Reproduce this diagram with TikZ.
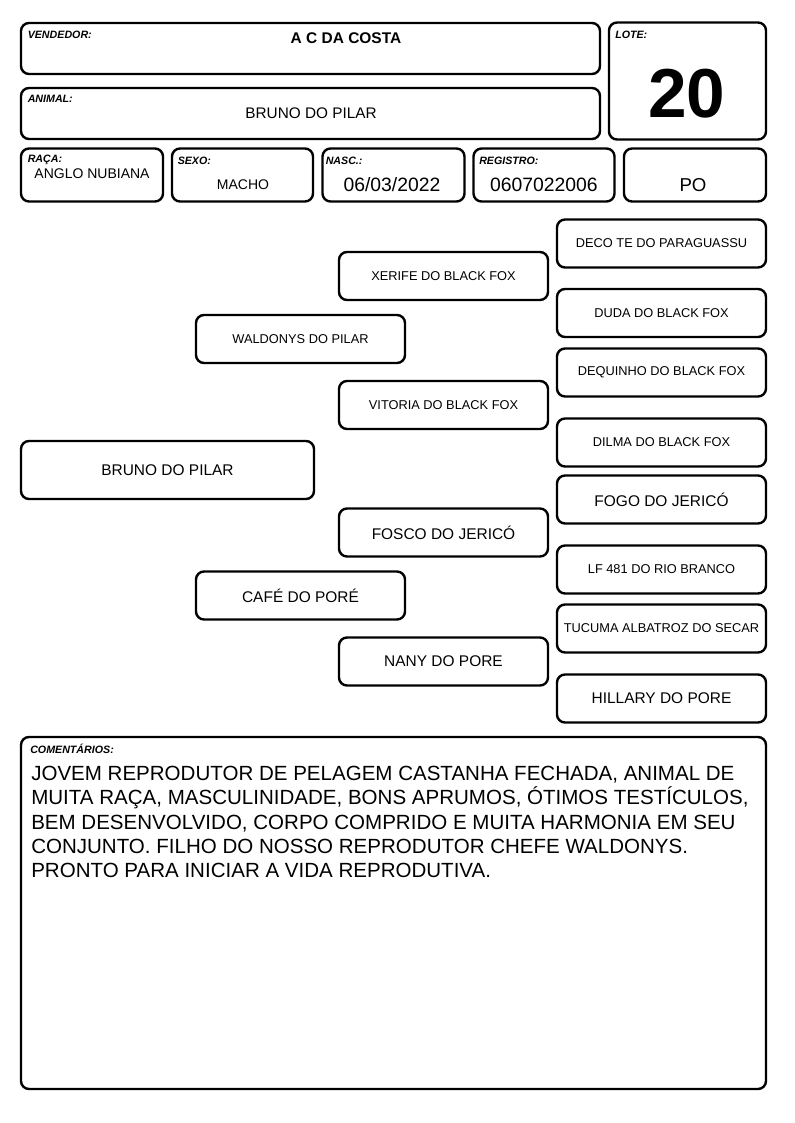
\documentclass[tikz,border=0pt]{standalone}
\usepackage{fontspec}
\setmainfont{Liberation Sans}

\begin{document}
\begin{tikzpicture}[x=0.75pt,y=-0.75pt,
	box/.style={draw, line width=1.8pt, rounded corners=6pt, inner sep=0pt},
	tag/.style={anchor=base west, inner sep=0pt, font=\fontsize{8}{8}\selectfont\bfseries\itshape},
	val/.style={anchor=base, inner sep=0pt},
	horse/.style={box, minimum width=156.75pt, minimum height=36pt, font=\fontsize{9.6}{10}\selectfont},
	bighorse/.style={horse, font=\fontsize{11.6}{12}\selectfont}]
	\useasboundingbox (0,0) rectangle (794,1123);
	
	% cabecalho
	\node[box, minimum width=434.25pt, minimum height=38.25pt] (vendedor) at (310.5,48.5) {};
	\node[tag] (vendedortag) at (27.5,39) {VENDEDOR:};
	\node[val, font=\fontsize{11.6}{12}\selectfont\bfseries] (vendedorval) at (346,43.3) {A C DA COSTA};
	
	\node[box, minimum width=434.25pt, minimum height=38.25pt] (animal) at (310.5,113.5) {};
	\node[tag] (animaltag) at (27.5,102.3) {ANIMAL:};
	\node[val, font=\fontsize{11.5}{12}\selectfont] (animalval) at (311,119) {BRUNO DO PILAR};
	
	\node[box, minimum width=117.75pt, minimum height=87.75pt] (lote) at (687.5,81) {};
	\node[tag] (lotetag) at (615,39) {LOTE:};
	\node[val, font=\fontsize{52}{52}\selectfont\bfseries] (loteval) at (687,117.7) {20};
	
	\node[box, minimum width=106.5pt, minimum height=39.75pt] (raca) at (92,175) {};
	\node[tag] (racatag) at (27.5,162.3) {RAÇA:};
	\node[val, font=\fontsize{10.5}{11}\selectfont] (racaval) at (92,178.3) {ANGLO NUBIANA};
	
	\node[box, minimum width=105.75pt, minimum height=39.75pt] (sexo) at (242.5,175) {};
	\node[tag] (sexotag) at (177.5,165) {SEXO:};
	\node[val, font=\fontsize{10.5}{11}\selectfont] (sexoval) at (243,189.3) {MACHO};
	
	\node[box, minimum width=106.5pt, minimum height=39.75pt] (nasc) at (393.5,175) {};
	\node[tag] (nasctag) at (325.5,165) {NASC.:};
	\node[val, font=\fontsize{14.5}{15}\selectfont] (nascval) at (392,191.7) {06/03/2022};
	
	\node[box, minimum width=105.75pt, minimum height=39.75pt] (registro) at (544,175) {};
	\node[tag] (registrotag) at (479,165) {REGISTRO:};
	\node[val, font=\fontsize{14.5}{15}\selectfont] (registroval) at (544,191.7) {0607022006};
	
	\node[box, minimum width=106.5pt, minimum height=39.75pt] (categoria) at (695,175) {};
	\node[val, font=\fontsize{14}{15}\selectfont] (categoriaval) at (693,191.7) {PO};
	
	% genealogia
	\node[bighorse, minimum width=219.75pt, minimum height=43.5pt] (bruno) at (167.5,470) {BRUNO DO PILAR};
	
	\node[horse] (waldonys) at (300.5,339) {WALDONYS DO PILAR};
	\node[bighorse] (cafe) at (300.5,595.5) {CAFÉ DO PORÉ};
	
	\node[horse] (xerife) at (443.5,276) {XERIFE DO BLACK FOX};
	\node[horse] (vitoria) at (443.5,405) {VITORIA DO BLACK FOX};
	\node[bighorse] (fosco) at (443.5,532.5) {FOSCO DO JERICÓ};
	\node[bighorse] (nany) at (443.5,661.5) {NANY DO PORE};
	
	\node[horse] (deco) at (661.5,243.5) {DECO TE DO PARAGUASSU};
	\node[horse] (duda) at (661.5,313) {DUDA DO BLACK FOX};
	\node[horse] (dequinho) at (661.5,372.5) {DEQUINHO DO BLACK FOX};
	\node[horse] (dilma) at (661.5,442.5) {DILMA DO BLACK FOX};
	\node[bighorse] (fogo) at (661.5,499.5) {FOGO DO JERICÓ};
	\node[horse] (lf) at (661.5,569.5) {LF 481 DO RIO BRANCO};
	\node[horse] (tucuma) at (661.5,628.5) {TUCUMA ALBATROZ DO SECAR};
	\node[bighorse] (hillary) at (661.5,698.5) {HILLARY DO PORE};
	
	% comentarios
	\node[box, minimum width=558.75pt, minimum height=264pt] (comentarios) at (393.5,913) {};
	\node[tag] (comentariostag) at (30,753.3) {COMENTÁRIOS:};
	\node[anchor=north west, inner sep=0pt, align=left, font=\fontsize{15.4}{18.2}\selectfont] (comentariosval) at (31,766)
	{JOVEM REPRODUTOR DE PELAGEM CASTANHA FECHADA, ANIMAL DE\\
	MUITA RAÇA, MASCULINIDADE, BONS APRUMOS, ÓTIMOS TESTÍCULOS,\\
	BEM DESENVOLVIDO, CORPO COMPRIDO E MUITA HARMONIA EM SEU\\
	CONJUNTO. FILHO DO NOSSO REPRODUTOR CHEFE WALDONYS.\\
	PRONTO PARA INICIAR A VIDA REPRODUTIVA.};
\end{tikzpicture}
\end{document}
